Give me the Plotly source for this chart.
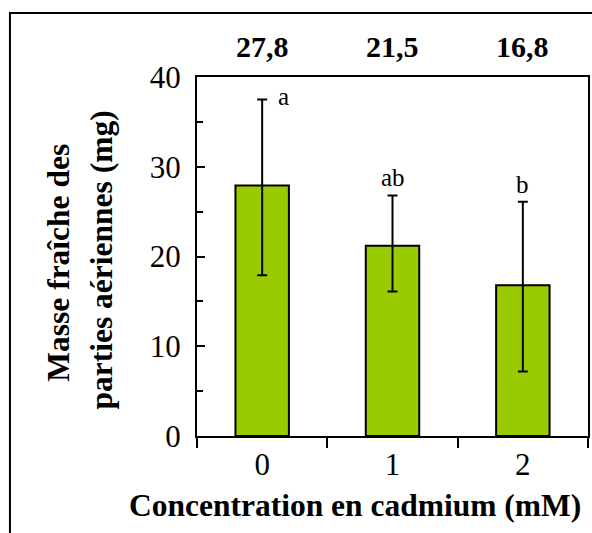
import plotly.graph_objects as go

categories = ["0", "1", "2"]
means = [27.9, 21.2, 16.8]
err_up = [9.6, 5.6, 9.3]
err_down = [10.0, 5.1, 9.6]
mean_labels = ["27,8", "21,5", "16,8"]
letters = ["a", "ab", "b"]

FONT = "Liberation Serif"
W, H = 592, 533
L, R, T, B = 197, 2, 77, 97
pw, ph = W - L - R, H - T - B

def px_x(p):
    return (p - L) / pw

def px_y(p):
    return (H - B - p) / ph

xs = list(range(len(categories)))

fig = go.Figure()
fig.add_trace(go.Bar(
    x=xs, y=means, width=0.41,
    marker=dict(color="#99CC00", line=dict(color="black", width=2)),
    error_y=dict(type="data", symmetric=False, array=err_up, arrayminus=err_down,
                 color="black", thickness=2, width=5),
    showlegend=False,
))

ann = []
for i, lab in enumerate(mean_labels):
    ann.append(dict(x=xs[i], y=px_y(47), xref="x", yref="paper", text="<b>" + lab + "</b>", showarrow=False,
                    font=dict(family=FONT, size=30, color="black"), xanchor="center", yanchor="middle"))
# significance letters
ann.append(dict(x=xs[0], y=means[0] + err_up[0], xref="x", yref="y", text=letters[0], showarrow=False,
                xshift=21, yshift=3, font=dict(family=FONT, size=25, color="black")))
for i in (1, 2):
    ann.append(dict(x=xs[i], y=means[i] + err_up[i], xref="x", yref="y", text=letters[i], showarrow=False,
                    yanchor="bottom", yshift=2, font=dict(family=FONT, size=25, color="black")))
# axis titles
ann.append(dict(x=px_x(356), y=px_y(505), xref="paper", yref="paper",
                text="<b>Concentration en cadmium (mM)</b>", showarrow=False,
                font=dict(family=FONT, size=31.5, color="black"), xanchor="center", yanchor="middle"))
ann.append(dict(x=px_x(57), y=px_y(263), xref="paper", yref="paper", text="<b>Masse fraîche des</b>",
                showarrow=False, textangle=-90, font=dict(family=FONT, size=31.5, color="black"),
                xanchor="center", yanchor="middle"))
ann.append(dict(x=px_x(101), y=px_y(260), xref="paper", yref="paper", text="<b>parties aériennes (mg)</b>",
                showarrow=False, textangle=-90, font=dict(family=FONT, size=31.5, color="black"),
                xanchor="center", yanchor="middle"))

fig.update_layout(
    width=W, height=H,
    margin=dict(l=L, r=R, t=T, b=B, pad=0),
    paper_bgcolor="white", plot_bgcolor="white",
    font=dict(family=FONT, color="black"),
    annotations=ann,
    shapes=[dict(type="rect", xref="paper", yref="paper",
                 x0=px_x(9), x1=px_x(620), y0=px_y(560), y1=px_y(13),
                 line=dict(color="black", width=2), layer="below")],
    xaxis=dict(range=[-0.5, 2.5], tickmode="array", tickvals=xs, ticktext=categories,
               ticks="", showgrid=False, zeroline=False,
               showline=True, linecolor="black", linewidth=2, mirror=True,
               tickfont=dict(family=FONT, size=31, color="black"),
               minor=dict(ticks="outside", ticklen=10, tickwidth=2, tickcolor="black",
                          tick0=0.5, dtick=1, showgrid=False)),
    yaxis=dict(range=[0, 40], dtick=10, ticks="inside", ticklen=8, tickwidth=2, tickcolor="black",
               showgrid=False, zeroline=False,
               showline=True, linecolor="black", linewidth=2, mirror=True,
               tickfont=dict(family=FONT, size=31, color="black"), ticklabelstandoff=8,
               minor=dict(ticks="inside", ticklen=6, tickwidth=2, tickcolor="black",
                          dtick=5, showgrid=False)),
)

fig.write_html("out.html")
